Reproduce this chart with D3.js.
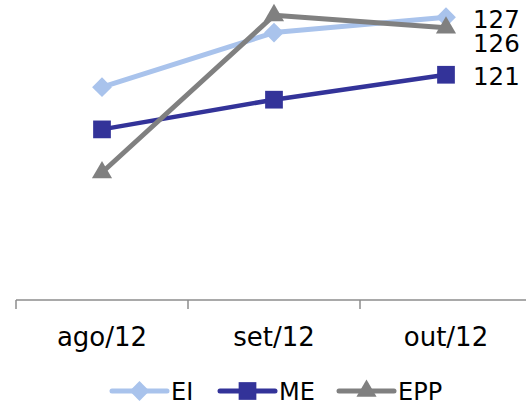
<!DOCTYPE html>
<html><head><meta charset="utf-8">
<script src="https://cdn.jsdelivr.net/npm/d3@7"></script>
<style>html,body{margin:0;padding:0;background:#fff;}svg{display:block;font-family:"DejaVu Sans",Verdana,sans-serif;}</style>
</head><body>
<svg id="c" width="526" height="405"></svg>
<script>
const categories = ["ago/12", "set/12", "out/12"];
const seriesNames = ["EI", "ME", "EPP"];
const valuesEI = [119.7, 125.4, 127.0];
const valuesME = [115.3, 118.4, 121.0];
const valuesEPP = [110.8, 127.2, 125.9];
const endLabels = ["127", "121", "126"];
const yDomain = [97.5, 128.8];

const colors = {EI: "#a9c3ec", ME: "#333399", EPP: "#808080"};
const symbols = {EI: d3.symbolDiamond2, ME: d3.symbolSquare2, EPP: d3.symbolTriangle2};
const series = [
  {name: "EI", values: valuesEI, label: endLabels[0], width: 5},
  {name: "ME", values: valuesME, label: endLabels[1], width: 4.5},
  {name: "EPP", values: valuesEPP, label: endLabels[2], width: 5}
];
const symSize = {EI: 250, ME: 400, EPP: 290};

const svg = d3.select("#c");
const x = d3.scaleBand().domain(categories).range([16, 532]);
const y = d3.scaleLinear().domain(yDomain).range([300, 0]);
const cx = c => x(c) + x.bandwidth() / 2;

// x axis
const axis = svg.append("g").attr("transform", "translate(0,300)");
axis.append("line").attr("x1", 16).attr("x2", 526).attr("stroke", "#8c8c8c").attr("stroke-width", 1.5);
axis.selectAll("line.tick").data(categories).join("line").attr("class", "tick")
  .attr("x1", d => x(d)).attr("x2", d => x(d)).attr("y1", 0).attr("y2", 9)
  .attr("stroke", "#8c8c8c").attr("stroke-width", 1.5);
axis.selectAll("text").data(categories).join("text")
  .attr("x", d => cx(d)).attr("y", 45.5).attr("text-anchor", "middle")
  .attr("font-size", 26).attr("fill", "#000").text(d => d);

const line = d3.line().x((d, i) => cx(categories[i])).y(d => y(d));

["EI", "ME", "EPP"].forEach(n => {
  const s = series.find(t => t.name === n);
  const g = svg.append("g");
  g.append("path").attr("d", line(s.values)).attr("fill", "none")
    .attr("stroke", colors[n]).attr("stroke-width", s.width).attr("stroke-linejoin", "round");
  g.selectAll("path.m").data(s.values).join("path").attr("class", "m")
    .attr("transform", (d, i) => `translate(${cx(categories[i])},${y(d)})`)
    .attr("d", d3.symbol().type(symbols[n]).size(symSize[n]))
    .attr("fill", colors[n]);
});

// end labels with simple collision avoidance
const last = categories.length - 1;
const lab = series.map(s => ({text: s.label, py: y(s.values[last]) + 1.5}))
  .sort((a, b) => a.py - b.py);
for (let i = 1; i < lab.length; i++) {
  if (lab[i].py - lab[i - 1].py < 24) lab[i].py = lab[i - 1].py + 24;
}
svg.selectAll("text.lab").data(lab).join("text").attr("class", "lab")
  .attr("x", 473).attr("y", d => d.py).attr("dy", "0.36em")
  .attr("font-size", 24.5).attr("fill", "#000").text(d => d.text);

// legend
const legX = [112, 220, 339];
const leg = svg.append("g");
seriesNames.forEach((n, i) => {
  const g = leg.append("g").attr("transform", `translate(${legX[i]},391)`);
  g.append("line").attr("x1", 0).attr("x2", 55).attr("stroke", colors[n])
    .attr("stroke-width", 5).attr("stroke-linecap", "round");
  g.append("path").attr("transform", "translate(27.5,0)")
    .attr("d", d3.symbol().type(symbols[n]).size(symSize[n]))
    .attr("fill", colors[n]);
  g.append("text").attr("x", 59).attr("y", 0).attr("dy", "0.36em")
    .attr("font-size", 24).attr("fill", "#000").text(n);
});
</script>
</body></html>
